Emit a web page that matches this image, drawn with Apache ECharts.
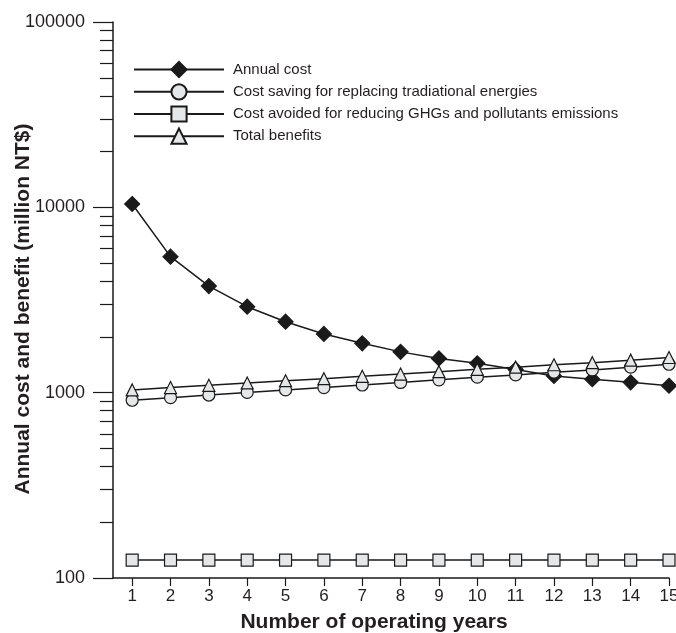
<!DOCTYPE html>
<html>
<head>
<meta charset="utf-8">
<script src="https://cdn.jsdelivr.net/npm/echarts@6/dist/echarts.min.js"></script>
<style>
  html, body { margin: 0; padding: 0; background: #ffffff; }
  #chart { width: 676px; height: 633px; }
</style>
</head>
<body>
<div id="chart"></div>
<script>
// ---- data ----
var years = [1, 2, 3, 4, 5, 6, 7, 8, 9, 10, 11, 12, 13, 14, 15];
var annualCost = [10425, 5420, 3760, 2910, 2415, 2075, 1846, 1660, 1530, 1440, 1335, 1230, 1181, 1137, 1090];
var costSaving = [910, 940, 971, 1003, 1035, 1065, 1100, 1135, 1173, 1212, 1247, 1290, 1327, 1373, 1423];
var costAvoided = [125, 125, 125, 125, 125, 125, 125, 125, 125, 125, 125, 125, 125, 125, 125];
var totalBenefits = [1035, 1065, 1096, 1128, 1160, 1190, 1225, 1260, 1298, 1337, 1372, 1415, 1452, 1498, 1548];
var seriesNames = [
  'Annual cost',
  'Cost saving for replacing tradiational energies',
  'Cost avoided for reducing GHGs and pollutants emissions',
  'Total benefits'
];
var yMajorTicks = [100, 1000, 10000, 100000];
var yMinorTicks = [200, 300, 400, 500, 600, 700, 800, 900,
                   2000, 3000, 4000, 5000, 6000, 7000, 8000, 9000,
                   20000, 30000, 40000, 50000, 60000, 70000, 80000, 90000];

function pairs(vals) {
  return years.map(function (x, i) { return [x, vals[i]]; });
}

var FONT = '"Liberation Sans", Arial, Helvetica, sans-serif';
var INK = '#1a1a1a';
var TXT = '#231f20';
var GRAYFILL = '#e6e7e8';

function mkSeries(name, vals, symbol, size, fill) {
  return {
    name: name,
    type: 'line',
    data: pairs(vals),
    symbol: symbol,
    symbolSize: size,
    showAllSymbol: true,
    lineStyle: { color: INK, width: 1.5 },
    itemStyle: { color: fill, borderColor: INK, borderWidth: 1.2, opacity: 1 },
    emphasis: { disabled: true },
    animation: false
  };
}

var chart = echarts.init(document.getElementById('chart'), null, { renderer: 'canvas' });
chart.setOption({
  animation: false,
  backgroundColor: '#ffffff',
  textStyle: { fontFamily: FONT },
  grid: { left: 113, right: 7, top: 22, bottom: 55, containLabel: false, outerBoundsMode: 'none' },
  legend: {
    orient: 'vertical',
    left: 133,
    top: 61,
    padding: 0,
    itemWidth: 90,
    itemHeight: 19,
    itemGap: 5,
    align: 'left',
    textStyle: { fontFamily: FONT, fontSize: 15, color: TXT, padding: [0, 0, 0, 4] },
    data: seriesNames,
    selectedMode: false
  },
  xAxis: {
    type: 'value',
    min: 0.5,
    max: 15,
    name: 'Number of operating years',
    nameLocation: 'middle',
    nameGap: 34,
    nameMoveOverlap: false,
    nameTextStyle: { fontFamily: FONT, fontSize: 21, fontWeight: 'bold', color: TXT, padding: [0, 34, 0, 0] },
    axisLine: { show: true, onZero: false, lineStyle: { color: INK, width: 1.5 } },
    axisTick: { show: true, inside: false, length: 8, customValues: years, lineStyle: { color: INK, width: 1.2 } },
    axisLabel: { show: true, customValues: years, margin: 10, fontSize: 17, color: TXT, fontFamily: FONT,
                 formatter: function (v) { return String(v); } },
    splitLine: { show: false },
    minorTick: { show: false }
  },
  yAxis: [{
    type: 'log',
    logBase: 10,
    min: 100,
    max: 100000,
    name: 'Annual cost and benefit (million NT$)',
    nameLocation: 'middle',
    nameGap: 79,
    nameMoveOverlap: false,
    nameTextStyle: { fontFamily: FONT, fontSize: 21, fontWeight: 'bold', color: TXT, padding: [0, 18, 0, 0] },
    axisLine: { show: true, lineStyle: { color: INK, width: 1.5 } },
    axisTick: { show: true, inside: false, length: 20, customValues: yMajorTicks, lineStyle: { color: INK, width: 1.2 } },
    axisLabel: { show: true, customValues: yMajorTicks, margin: 28, fontSize: 18, color: TXT, fontFamily: FONT,
                 formatter: function (v) { return String(Math.round(v)); } },
    splitLine: { show: false }
  }, {
    type: 'log',
    logBase: 10,
    min: 100,
    max: 100000,
    position: 'left',
    axisLine: { show: false },
    axisTick: { show: true, inside: false, length: 13, customValues: yMinorTicks, lineStyle: { color: INK, width: 1.2 } },
    axisLabel: { show: false },
    splitLine: { show: false }
  }],
  series: [
    mkSeries(seriesNames[0], annualCost, 'diamond', 15, INK),
    mkSeries(seriesNames[1], costSaving, 'circle', 12, GRAYFILL),
    mkSeries(seriesNames[2], costAvoided, 'rect', 12, GRAYFILL),
    mkSeries(seriesNames[3], totalBenefits, 'triangle', 12, GRAYFILL)
  ]
});
</script>
</body>
</html>
